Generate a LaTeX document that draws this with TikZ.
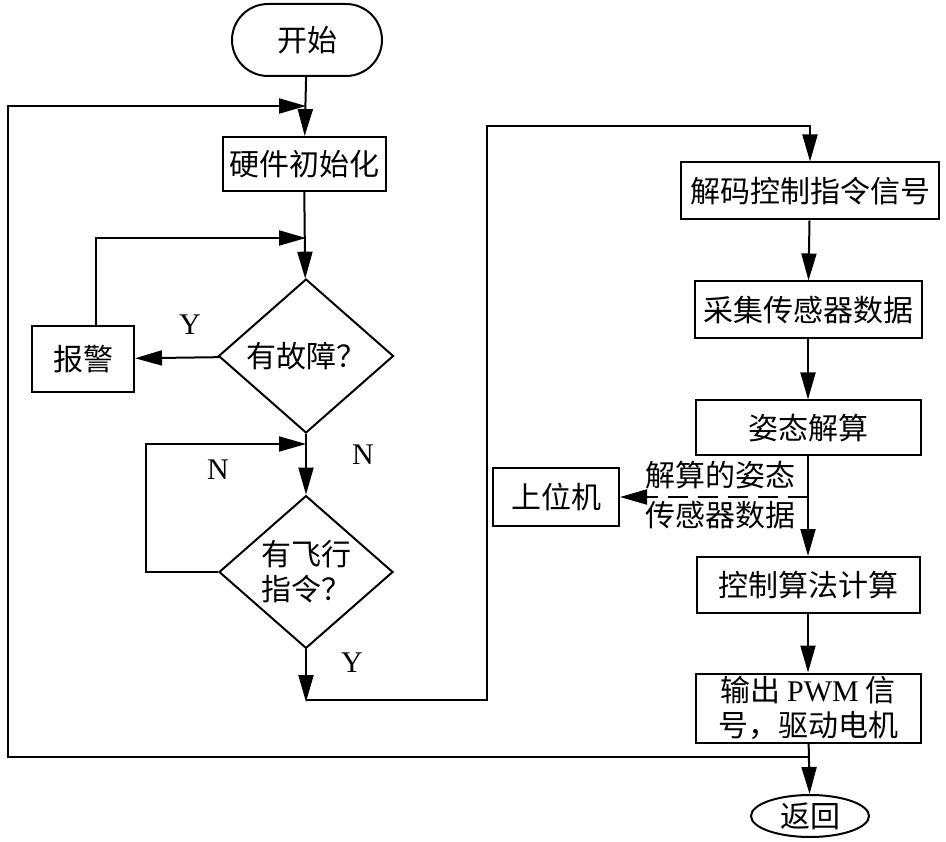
\documentclass[tikz,border=0pt]{standalone}
\usepackage{fontspec}
\setmainfont{Liberation Serif}
\newfontfamily\cjk{Noto Sans CJK SC}
\usetikzlibrary{arrows.meta,shapes.geometric,shapes.misc}
\begin{document}
\begin{tikzpicture}[x=1pt,y=1pt,yscale=-1,xscale=1,
		line width=2pt,
		every node/.style={font=\cjk\fontsize{30}{35}\selectfont},
		box/.style={draw,rectangle,inner sep=0pt,align=center},
		decide/.style={draw,diamond,inner sep=0pt,align=center},
		flow/.style={-{Triangle[length=27pt,width=15pt]}},
		lbl/.style={font=\rmfamily\fontsize{30}{35}\selectfont}]
		\useasboundingbox (0,0) rectangle (946,842);
		\node [draw,rounded rectangle,minimum width=150,minimum height=72,inner sep=0pt] (start) at (307,40) {开始};
		\node [box,minimum width=163,minimum height=54] (init) at (304,164) {硬件初始化};
		\node [decide,minimum width=175,minimum height=154] (fault) at (306,356) {有故障？};
		\node [box,minimum width=102,minimum height=66] (alarm) at (83,359) {报警};
		\node [decide,minimum width=174,minimum height=152] (cmd) at (306,572) {有飞行\\指令？};
		\node [box,minimum width=258,minimum height=57] (decode) at (810,191) {解码控制指令信号};
		\node [box,minimum width=227,minimum height=57] (collect) at (808,310) {采集传感器数据};
		\node [box,minimum width=225,minimum height=55] (attitude) at (808,428) {姿态解算};
		\node [box,minimum width=126,minimum height=57] (host) at (556,497) {上位机};
		\node [box,minimum width=223,minimum height=56] (control) at (808,585) {控制算法计算};
		\node [box,minimum width=225,minimum height=69] (pwm) at (808,708) {输出 \textrm{PWM} 信\\号，驱动电机};
		\node [draw,ellipse,minimum width=118,minimum height=42,inner sep=0pt] (ret) at (810,816) {返回};
		\coordinate (j1) at (306,106);
		\coordinate (j2) at (306,238);
		\coordinate (j3) at (306,444);
		\coordinate (j4) at (306,702);
		\coordinate (c2) at (487,126);
		\coordinate (tap) at (808,497);
		\coordinate (back) at (808,757);
		\draw [flow] (start) -- (init);
		\draw [flow] (back) -| (8,106) -- (j1);
		\draw [flow] (init) -- (fault);
		\draw [flow] (alarm.north -| 96,0) |- (j2);
		\draw [flow] (fault) -- (alarm);
		\draw [flow] (fault) -- (cmd);
		\draw [flow] (cmd.west) -| (146,444) -- (j3);
		\draw [flow] (cmd) -- (j4);
		\draw [flow] (306,700) -| (c2) -| (decode.north);
		\draw [flow] (decode) -- (collect);
		\draw [flow] (collect) -- (attitude);
		\draw [flow] (attitude) -- (control);
		\draw [flow,dash pattern=on 20pt off 10pt] (tap) -- (host);
		\draw [flow] (control) -- (pwm);
		\draw [flow] (pwm) -- (ret);
		\node [lbl] (yfault) at (190,325) {Y};
		\node [lbl] (nfault) at (363,455) {N};
		\node [lbl] (ncmd) at (218,470) {N};
		\node [lbl] (ycmd) at (352,663) {Y};
		\node (sendtop) at (720,475) {解算的姿态};
		\node (sendbot) at (720,515) {传感器数据};
	\end{tikzpicture}
\end{document}
